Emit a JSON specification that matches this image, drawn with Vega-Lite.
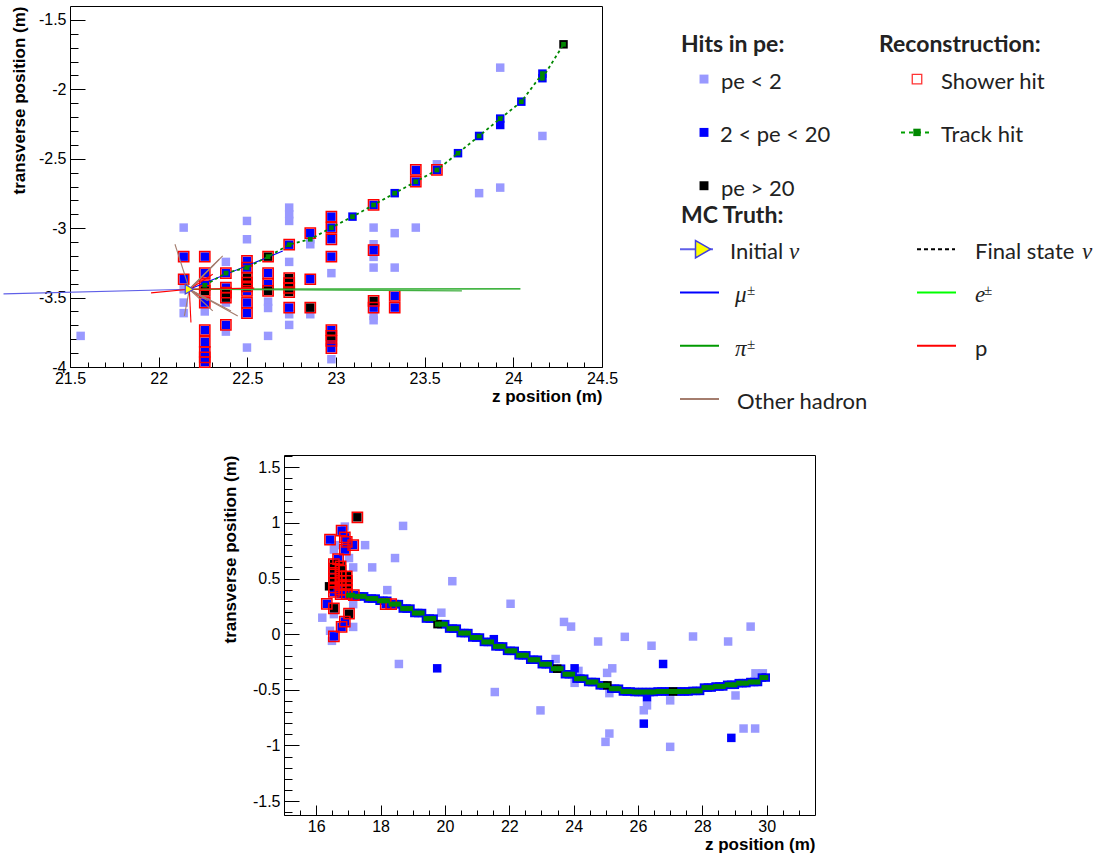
{
"$schema":"https://vega.github.io/schema/vega-lite/v6.json",
"background":"white",
"padding":{"left":0,"top":5,"right":0,"bottom":0},
"config":{"view":{"stroke":null},
 "axis":{"labelFont":"Liberation Sans","labelFontSize":16,"labelColor":"#000","titleFont":"Liberation Sans","titleFontSize":17,"titleFontWeight":"bold","titleColor":"#000","tickColor":"#000","domainColor":"#000","grid":false,"labelFlush":false,"labelOverlap":false,"domain":false}},
"datasets":{
"hits":[
{"p":"top","z":21.56,"t":-3.776,"pe":"low"},
{"p":"top","z":22.141,"t":-2.996,"pe":"low"},
{"p":"top","z":22.141,"t":-3.205,"pe":"mid","sh":1},
{"p":"top","z":22.141,"t":-3.368,"pe":"mid","sh":1},
{"p":"top","z":22.141,"t":-3.44,"pe":"low"},
{"p":"top","z":22.141,"t":-3.536,"pe":"low"},
{"p":"top","z":22.141,"t":-3.612,"pe":"low"},
{"p":"top","z":22.26,"t":-3.205,"pe":"mid","sh":1},
{"p":"top","z":22.26,"t":-3.324,"pe":"mid","sh":1},
{"p":"top","z":22.26,"t":-3.411,"pe":"mid","sh":1,"tr":1},
{"p":"top","z":22.26,"t":-3.452,"pe":"high","sh":1},
{"p":"top","z":22.26,"t":-3.536,"pe":"mid","sh":1},
{"p":"top","z":22.26,"t":-3.6,"pe":"low"},
{"p":"top","z":22.26,"t":-3.735,"pe":"mid","sh":1},
{"p":"top","z":22.26,"t":-3.819,"pe":"mid","sh":1},
{"p":"top","z":22.26,"t":-3.891,"pe":"mid","sh":1},
{"p":"top","z":22.26,"t":-3.93,"pe":"mid","sh":1},
{"p":"top","z":22.26,"t":-3.965,"pe":"mid","sh":1},
{"p":"top","z":22.379,"t":-3.243,"pe":"low"},
{"p":"top","z":22.379,"t":-3.324,"pe":"mid","sh":1,"tr":1},
{"p":"top","z":22.379,"t":-3.428,"pe":"mid","sh":1},
{"p":"top","z":22.379,"t":-3.465,"pe":"high","sh":1},
{"p":"top","z":22.379,"t":-3.5,"pe":"high","sh":1},
{"p":"top","z":22.379,"t":-3.536,"pe":"low"},
{"p":"top","z":22.379,"t":-3.697,"pe":"mid","sh":1},
{"p":"top","z":22.379,"t":-3.745,"pe":"low"},
{"p":"top","z":22.498,"t":-2.948,"pe":"low"},
{"p":"top","z":22.498,"t":-3.08,"pe":"low"},
{"p":"top","z":22.498,"t":-3.236,"pe":"mid","sh":1},
{"p":"top","z":22.498,"t":-3.284,"pe":"mid","sh":1,"tr":1},
{"p":"top","z":22.498,"t":-3.356,"pe":"high","sh":1},
{"p":"top","z":22.498,"t":-3.392,"pe":"high","sh":1},
{"p":"top","z":22.498,"t":-3.42,"pe":"high","sh":1},
{"p":"top","z":22.498,"t":-3.452,"pe":"mid","sh":1},
{"p":"top","z":22.498,"t":-3.536,"pe":"mid","sh":1},
{"p":"top","z":22.498,"t":-3.612,"pe":"mid","sh":1},
{"p":"top","z":22.498,"t":-3.86,"pe":"low"},
{"p":"top","z":22.617,"t":-3.205,"pe":"high","sh":1,"tr":1},
{"p":"top","z":22.617,"t":-3.324,"pe":"mid","sh":1},
{"p":"top","z":22.617,"t":-3.404,"pe":"mid","sh":1},
{"p":"top","z":22.617,"t":-3.452,"pe":"high","sh":1},
{"p":"top","z":22.617,"t":-3.53,"pe":"low"},
{"p":"top","z":22.617,"t":-3.575,"pe":"low"},
{"p":"top","z":22.617,"t":-3.776,"pe":"low"},
{"p":"top","z":22.736,"t":-2.852,"pe":"low"},
{"p":"top","z":22.736,"t":-2.9,"pe":"low"},
{"p":"top","z":22.736,"t":-2.948,"pe":"low"},
{"p":"top","z":22.736,"t":-3.119,"pe":"mid","sh":1,"tr":1},
{"p":"top","z":22.736,"t":-3.243,"pe":"low"},
{"p":"top","z":22.736,"t":-3.36,"pe":"high","sh":1},
{"p":"top","z":22.736,"t":-3.395,"pe":"mid","sh":1},
{"p":"top","z":22.736,"t":-3.43,"pe":"high","sh":1},
{"p":"top","z":22.736,"t":-3.46,"pe":"high","sh":1},
{"p":"top","z":22.736,"t":-3.572,"pe":"mid","sh":1},
{"p":"top","z":22.736,"t":-3.62,"pe":"low"},
{"p":"top","z":22.736,"t":-3.697,"pe":"low"},
{"p":"top","z":22.855,"t":-3.036,"pe":"mid","sh":1},
{"p":"top","z":22.855,"t":-3.08,"pe":"low","tr":1},
{"p":"top","z":22.855,"t":-3.116,"pe":"low"},
{"p":"top","z":22.855,"t":-3.368,"pe":"mid","sh":1},
{"p":"top","z":22.855,"t":-3.572,"pe":"high","sh":1},
{"p":"top","z":22.855,"t":-3.62,"pe":"low"},
{"p":"top","z":22.974,"t":-2.917,"pe":"mid","sh":1},
{"p":"top","z":22.974,"t":-2.996,"pe":"mid","sh":1,"tr":1},
{"p":"top","z":22.974,"t":-3.08,"pe":"mid","sh":1},
{"p":"top","z":22.974,"t":-3.205,"pe":"mid","sh":1},
{"p":"top","z":22.974,"t":-3.324,"pe":"low"},
{"p":"top","z":22.974,"t":-3.735,"pe":"mid","sh":1},
{"p":"top","z":22.974,"t":-3.776,"pe":"high","sh":1},
{"p":"top","z":22.974,"t":-3.812,"pe":"mid","sh":1},
{"p":"top","z":22.974,"t":-3.864,"pe":"mid","sh":1},
{"p":"top","z":22.974,"t":-3.944,"pe":"low"},
{"p":"top","z":23.093,"t":-2.917,"pe":"mid","tr":1},
{"p":"top","z":23.212,"t":-2.833,"pe":"mid","sh":1,"tr":1},
{"p":"top","z":23.212,"t":-2.996,"pe":"low"},
{"p":"top","z":23.212,"t":-3.116,"pe":"low"},
{"p":"top","z":23.212,"t":-3.159,"pe":"mid","sh":1},
{"p":"top","z":23.212,"t":-3.207,"pe":"low"},
{"p":"top","z":23.212,"t":-3.284,"pe":"low"},
{"p":"top","z":23.212,"t":-3.524,"pe":"high","sh":1},
{"p":"top","z":23.212,"t":-3.572,"pe":"mid","sh":1},
{"p":"top","z":23.212,"t":-3.632,"pe":"low"},
{"p":"top","z":23.212,"t":-3.663,"pe":"low"},
{"p":"top","z":23.331,"t":-2.748,"pe":"mid","tr":1},
{"p":"top","z":23.331,"t":-3.036,"pe":"low"},
{"p":"top","z":23.331,"t":-3.284,"pe":"low"},
{"p":"top","z":23.331,"t":-3.488,"pe":"mid","sh":1},
{"p":"top","z":23.331,"t":-3.572,"pe":"mid","sh":1},
{"p":"top","z":23.45,"t":-2.581,"pe":"mid","sh":1},
{"p":"top","z":23.45,"t":-2.665,"pe":"mid","sh":1,"tr":1},
{"p":"top","z":23.45,"t":-2.996,"pe":"low"},
{"p":"top","z":23.569,"t":-2.54,"pe":"low"},
{"p":"top","z":23.569,"t":-2.581,"pe":"mid","sh":1,"tr":1},
{"p":"top","z":23.688,"t":-2.46,"pe":"mid","tr":1},
{"p":"top","z":23.807,"t":-2.336,"pe":"mid","tr":1},
{"p":"top","z":23.807,"t":-2.748,"pe":"low"},
{"p":"top","z":23.926,"t":-1.844,"pe":"low"},
{"p":"top","z":23.926,"t":-2.211,"pe":"mid","tr":1},
{"p":"top","z":23.926,"t":-2.257,"pe":"mid"},
{"p":"top","z":23.926,"t":-2.708,"pe":"low"},
{"p":"top","z":24.045,"t":-2.089,"pe":"mid","tr":1},
{"p":"top","z":24.164,"t":-1.887,"pe":"mid","tr":1},
{"p":"top","z":24.164,"t":-1.92,"pe":"mid","tr":1},
{"p":"top","z":24.164,"t":-2.336,"pe":"low"},
{"p":"top","z":24.283,"t":-1.676,"pe":"high","tr":1},
{"p":"bot","z":16.89,"t":0.967,"pe":"low"},
{"p":"bot","z":16.55,"t":0.76,"pe":"low"},
{"p":"bot","z":16.6,"t":0.8,"pe":"low"},
{"p":"bot","z":17.02,"t":0.684,"pe":"low"},
{"p":"bot","z":17.15,"t":0.6,"pe":"low"},
{"p":"bot","z":17.52,"t":0.8,"pe":"low"},
{"p":"bot","z":17.74,"t":0.6,"pe":"low"},
{"p":"bot","z":18.45,"t":0.684,"pe":"low"},
{"p":"bot","z":18.7,"t":0.973,"pe":"low"},
{"p":"bot","z":20.23,"t":0.476,"pe":"low"},
{"p":"bot","z":18.21,"t":0.396,"pe":"low"},
{"p":"bot","z":22.04,"t":0.273,"pe":"low"},
{"p":"bot","z":19.89,"t":0.193,"pe":"low"},
{"p":"bot","z":16.19,"t":0.148,"pe":"low"},
{"p":"bot","z":16.43,"t":0.03,"pe":"low"},
{"p":"bot","z":16.49,"t":-0.06,"pe":"low"},
{"p":"bot","z":17.15,"t":0.065,"pe":"low"},
{"p":"bot","z":16.55,"t":0.18,"pe":"low"},
{"p":"bot","z":17.15,"t":0.27,"pe":"low"},
{"p":"bot","z":18.57,"t":-0.268,"pe":"low"},
{"p":"bot","z":23.44,"t":-0.223,"pe":"low"},
{"p":"bot","z":23.7,"t":0.11,"pe":"low"},
{"p":"bot","z":23.92,"t":0.068,"pe":"low"},
{"p":"bot","z":24.76,"t":-0.066,"pe":"low"},
{"p":"bot","z":25.59,"t":-0.024,"pe":"low"},
{"p":"bot","z":26.42,"t":-0.104,"pe":"low"},
{"p":"bot","z":27.71,"t":-0.021,"pe":"low"},
{"p":"bot","z":28.8,"t":-0.066,"pe":"low"},
{"p":"bot","z":29.5,"t":0.068,"pe":"low"},
{"p":"bot","z":21.55,"t":-0.52,"pe":"low"},
{"p":"bot","z":22.97,"t":-0.685,"pe":"low"},
{"p":"bot","z":24.15,"t":-0.33,"pe":"low"},
{"p":"bot","z":25.2,"t":-0.307,"pe":"low"},
{"p":"bot","z":25.04,"t":-0.348,"pe":"low"},
{"p":"bot","z":24.03,"t":-0.4375,"pe":"low"},
{"p":"bot","z":25.11,"t":-0.53,"pe":"low"},
{"p":"bot","z":26.28,"t":-0.64,"pe":"low"},
{"p":"bot","z":26.18,"t":-0.684,"pe":"low"},
{"p":"bot","z":27.0,"t":-0.595,"pe":"low"},
{"p":"bot","z":29.03,"t":-0.551,"pe":"low"},
{"p":"bot","z":29.65,"t":-0.352,"pe":"low"},
{"p":"bot","z":29.88,"t":-0.352,"pe":"low"},
{"p":"bot","z":25.11,"t":-0.893,"pe":"low"},
{"p":"bot","z":24.99,"t":-0.968,"pe":"low"},
{"p":"bot","z":27.0,"t":-1.0125,"pe":"low"},
{"p":"bot","z":29.28,"t":-0.848,"pe":"low"},
{"p":"bot","z":29.64,"t":-0.848,"pe":"low"},
{"p":"bot","z":16.4,"t":0.43,"pe":"high"},
{"p":"bot","z":19.76,"t":-0.307,"pe":"mid"},
{"p":"bot","z":24.03,"t":-0.307,"pe":"mid"},
{"p":"bot","z":26.78,"t":-0.268,"pe":"mid"},
{"p":"bot","z":26.28,"t":-0.566,"pe":"mid"},
{"p":"bot","z":26.18,"t":-0.804,"pe":"mid"},
{"p":"bot","z":28.9,"t":-0.932,"pe":"mid"},
{"p":"bot","z":21.52,"t":-0.045,"pe":"mid"},
{"p":"bot","z":17.28,"t":1.05,"pe":"high","sh":1},
{"p":"bot","z":16.43,"t":0.85,"pe":"mid","sh":1},
{"p":"bot","z":16.79,"t":0.93,"pe":"mid","sh":1},
{"p":"bot","z":16.89,"t":0.87,"pe":"mid","sh":1},
{"p":"bot","z":16.95,"t":0.83,"pe":"mid","sh":1},
{"p":"bot","z":16.89,"t":0.76,"pe":"mid","sh":1},
{"p":"bot","z":17.15,"t":0.8,"pe":"mid","sh":1},
{"p":"bot","z":16.68,"t":0.675,"pe":"mid","sh":1},
{"p":"bot","z":16.55,"t":0.63,"pe":"high","sh":1},
{"p":"bot","z":16.55,"t":0.59,"pe":"high","sh":1},
{"p":"bot","z":16.55,"t":0.55,"pe":"mid","sh":1},
{"p":"bot","z":16.55,"t":0.5,"pe":"high","sh":1},
{"p":"bot","z":16.55,"t":0.46,"pe":"high","sh":1},
{"p":"bot","z":16.55,"t":0.42,"pe":"mid","sh":1},
{"p":"bot","z":16.55,"t":0.38,"pe":"mid","sh":1},
{"p":"bot","z":16.76,"t":0.61,"pe":"high","sh":1},
{"p":"bot","z":16.76,"t":0.57,"pe":"high","sh":1},
{"p":"bot","z":16.76,"t":0.52,"pe":"high","sh":1},
{"p":"bot","z":16.76,"t":0.48,"pe":"high","sh":1},
{"p":"bot","z":16.76,"t":0.44,"pe":"mid","sh":1},
{"p":"bot","z":16.76,"t":0.4,"pe":"mid","sh":1},
{"p":"bot","z":16.76,"t":0.36,"pe":"mid","sh":1},
{"p":"bot","z":16.95,"t":0.52,"pe":"high","sh":1},
{"p":"bot","z":16.95,"t":0.48,"pe":"high","sh":1},
{"p":"bot","z":16.95,"t":0.44,"pe":"high","sh":1},
{"p":"bot","z":16.95,"t":0.4,"pe":"mid","sh":1},
{"p":"bot","z":16.95,"t":0.36,"pe":"mid","sh":1},
{"p":"bot","z":17.17,"t":0.35,"pe":"mid","sh":1},
{"p":"bot","z":16.33,"t":0.273,"pe":"mid","sh":1},
{"p":"bot","z":16.55,"t":0.232,"pe":"high","sh":1},
{"p":"bot","z":17.02,"t":0.184,"pe":"high","sh":1},
{"p":"bot","z":16.89,"t":0.113,"pe":"mid","sh":1},
{"p":"bot","z":16.79,"t":0.065,"pe":"mid","sh":1},
{"p":"bot","z":16.55,"t":-0.02,"pe":"mid","sh":1},
{"p":"bot","z":18.16,"t":0.27,"pe":"mid","sh":1},
{"p":"bot","z":18.33,"t":0.27,"pe":"mid","sh":1},
{"p":"bot","z":17.01,"t":0.35,"pe":"mid","tr":1},
{"p":"bot","z":17.13,"t":0.35,"pe":"mid","tr":1},
{"p":"bot","z":17.25,"t":0.34,"pe":"mid","tr":1},
{"p":"bot","z":17.37,"t":0.34,"pe":"mid","tr":1},
{"p":"bot","z":17.49,"t":0.34,"pe":"mid","tr":1},
{"p":"bot","z":17.61,"t":0.32,"pe":"mid","tr":1},
{"p":"bot","z":17.73,"t":0.32,"pe":"mid","tr":1},
{"p":"bot","z":17.85,"t":0.32,"pe":"mid","tr":1},
{"p":"bot","z":17.97,"t":0.3,"pe":"mid","tr":1},
{"p":"bot","z":18.09,"t":0.3,"pe":"mid","tr":1},
{"p":"bot","z":18.21,"t":0.3,"pe":"mid","tr":1},
{"p":"bot","z":18.33,"t":0.27,"pe":"mid","tr":1},
{"p":"bot","z":18.45,"t":0.27,"pe":"mid","tr":1},
{"p":"bot","z":18.57,"t":0.27,"pe":"mid","tr":1},
{"p":"bot","z":18.69,"t":0.23,"pe":"mid","tr":1},
{"p":"bot","z":18.81,"t":0.23,"pe":"mid","tr":1},
{"p":"bot","z":18.93,"t":0.23,"pe":"mid","tr":1},
{"p":"bot","z":19.05,"t":0.19,"pe":"mid","tr":1},
{"p":"bot","z":19.17,"t":0.19,"pe":"mid","tr":1},
{"p":"bot","z":19.29,"t":0.19,"pe":"mid","tr":1},
{"p":"bot","z":19.41,"t":0.14,"pe":"mid","tr":1},
{"p":"bot","z":19.53,"t":0.14,"pe":"mid","tr":1},
{"p":"bot","z":19.65,"t":0.14,"pe":"mid","tr":1},
{"p":"bot","z":19.77,"t":0.09,"pe":"high","tr":1},
{"p":"bot","z":19.89,"t":0.09,"pe":"mid","tr":1},
{"p":"bot","z":20.01,"t":0.09,"pe":"mid","tr":1},
{"p":"bot","z":20.13,"t":0.05,"pe":"mid","tr":1},
{"p":"bot","z":20.25,"t":0.05,"pe":"mid","tr":1},
{"p":"bot","z":20.37,"t":0.05,"pe":"mid","tr":1},
{"p":"bot","z":20.49,"t":0.01,"pe":"mid","tr":1},
{"p":"bot","z":20.61,"t":0.01,"pe":"mid","tr":1},
{"p":"bot","z":20.73,"t":0.01,"pe":"mid","tr":1},
{"p":"bot","z":20.85,"t":-0.03,"pe":"mid","tr":1},
{"p":"bot","z":20.97,"t":-0.03,"pe":"mid","tr":1},
{"p":"bot","z":21.09,"t":-0.03,"pe":"mid","tr":1},
{"p":"bot","z":21.21,"t":-0.07,"pe":"mid","tr":1},
{"p":"bot","z":21.33,"t":-0.07,"pe":"mid","tr":1},
{"p":"bot","z":21.45,"t":-0.07,"pe":"mid","tr":1},
{"p":"bot","z":21.57,"t":-0.11,"pe":"mid","tr":1},
{"p":"bot","z":21.69,"t":-0.11,"pe":"mid","tr":1},
{"p":"bot","z":21.81,"t":-0.11,"pe":"mid","tr":1},
{"p":"bot","z":21.93,"t":-0.15,"pe":"mid","tr":1},
{"p":"bot","z":22.05,"t":-0.15,"pe":"mid","tr":1},
{"p":"bot","z":22.17,"t":-0.15,"pe":"mid","tr":1},
{"p":"bot","z":22.29,"t":-0.19,"pe":"mid","tr":1},
{"p":"bot","z":22.41,"t":-0.19,"pe":"mid","tr":1},
{"p":"bot","z":22.53,"t":-0.19,"pe":"mid","tr":1},
{"p":"bot","z":22.65,"t":-0.23,"pe":"mid","tr":1},
{"p":"bot","z":22.77,"t":-0.23,"pe":"mid","tr":1},
{"p":"bot","z":22.89,"t":-0.23,"pe":"mid","tr":1},
{"p":"bot","z":23.01,"t":-0.27,"pe":"mid","tr":1},
{"p":"bot","z":23.13,"t":-0.27,"pe":"mid","tr":1},
{"p":"bot","z":23.25,"t":-0.27,"pe":"mid","tr":1},
{"p":"bot","z":23.37,"t":-0.31,"pe":"mid","tr":1},
{"p":"bot","z":23.49,"t":-0.31,"pe":"high","tr":1},
{"p":"bot","z":23.61,"t":-0.31,"pe":"mid","tr":1},
{"p":"bot","z":23.73,"t":-0.36,"pe":"mid","tr":1},
{"p":"bot","z":23.85,"t":-0.36,"pe":"mid","tr":1},
{"p":"bot","z":23.97,"t":-0.36,"pe":"mid","tr":1},
{"p":"bot","z":24.09,"t":-0.4,"pe":"mid","tr":1},
{"p":"bot","z":24.21,"t":-0.4,"pe":"mid","tr":1},
{"p":"bot","z":24.33,"t":-0.4,"pe":"mid","tr":1},
{"p":"bot","z":24.45,"t":-0.43,"pe":"mid","tr":1},
{"p":"bot","z":24.57,"t":-0.43,"pe":"mid","tr":1},
{"p":"bot","z":24.69,"t":-0.43,"pe":"mid","tr":1},
{"p":"bot","z":24.81,"t":-0.46,"pe":"mid","tr":1},
{"p":"bot","z":24.93,"t":-0.46,"pe":"mid","tr":1},
{"p":"bot","z":25.05,"t":-0.46,"pe":"high","tr":1},
{"p":"bot","z":25.17,"t":-0.49,"pe":"mid","tr":1},
{"p":"bot","z":25.29,"t":-0.49,"pe":"mid","tr":1},
{"p":"bot","z":25.41,"t":-0.49,"pe":"mid","tr":1},
{"p":"bot","z":25.53,"t":-0.515,"pe":"mid","tr":1},
{"p":"bot","z":25.65,"t":-0.515,"pe":"mid","tr":1},
{"p":"bot","z":25.77,"t":-0.515,"pe":"mid","tr":1},
{"p":"bot","z":25.89,"t":-0.52,"pe":"mid","tr":1},
{"p":"bot","z":26.01,"t":-0.52,"pe":"mid","tr":1},
{"p":"bot","z":26.13,"t":-0.52,"pe":"mid","tr":1},
{"p":"bot","z":26.25,"t":-0.52,"pe":"mid","tr":1},
{"p":"bot","z":26.37,"t":-0.52,"pe":"mid","tr":1},
{"p":"bot","z":26.49,"t":-0.52,"pe":"mid","tr":1},
{"p":"bot","z":26.61,"t":-0.515,"pe":"mid","tr":1},
{"p":"bot","z":26.73,"t":-0.515,"pe":"mid","tr":1},
{"p":"bot","z":26.85,"t":-0.515,"pe":"mid","tr":1},
{"p":"bot","z":26.97,"t":-0.515,"pe":"mid","tr":1},
{"p":"bot","z":27.09,"t":-0.515,"pe":"high","tr":1},
{"p":"bot","z":27.21,"t":-0.515,"pe":"mid","tr":1},
{"p":"bot","z":27.33,"t":-0.515,"pe":"mid","tr":1},
{"p":"bot","z":27.45,"t":-0.515,"pe":"mid","tr":1},
{"p":"bot","z":27.57,"t":-0.515,"pe":"mid","tr":1},
{"p":"bot","z":27.69,"t":-0.51,"pe":"mid","tr":1},
{"p":"bot","z":27.81,"t":-0.51,"pe":"mid","tr":1},
{"p":"bot","z":27.93,"t":-0.51,"pe":"mid","tr":1},
{"p":"bot","z":28.05,"t":-0.48,"pe":"mid","tr":1},
{"p":"bot","z":28.17,"t":-0.48,"pe":"mid","tr":1},
{"p":"bot","z":28.29,"t":-0.48,"pe":"mid","tr":1},
{"p":"bot","z":28.41,"t":-0.47,"pe":"mid","tr":1},
{"p":"bot","z":28.53,"t":-0.47,"pe":"mid","tr":1},
{"p":"bot","z":28.65,"t":-0.47,"pe":"mid","tr":1},
{"p":"bot","z":28.77,"t":-0.455,"pe":"mid","tr":1},
{"p":"bot","z":28.89,"t":-0.455,"pe":"mid","tr":1},
{"p":"bot","z":29.01,"t":-0.455,"pe":"mid","tr":1},
{"p":"bot","z":29.13,"t":-0.44,"pe":"mid","tr":1},
{"p":"bot","z":29.25,"t":-0.44,"pe":"mid","tr":1},
{"p":"bot","z":29.37,"t":-0.44,"pe":"mid","tr":1},
{"p":"bot","z":29.49,"t":-0.43,"pe":"mid","tr":1},
{"p":"bot","z":29.61,"t":-0.43,"pe":"mid","tr":1},
{"p":"bot","z":29.73,"t":-0.43,"pe":"mid","tr":1},
{"p":"bot","z":29.85,"t":-0.39,"pe":"mid","tr":1},
{"p":"bot","z":29.97,"t":-0.39,"pe":"mid","tr":1}
],
"mc":[
{"seg":"nu","part":"nu","o":0,"z":21.125,"t":-3.473},{"seg":"nu","part":"nu","o":1,"z":22.173,"t":-3.44},
{"seg":"mu","part":"mu","o":0,"z":22.173,"t":-3.44},{"seg":"mu","part":"mu","o":1,"z":22.7,"t":-3.165},
{"seg":"pi1","part":"pi","o":0,"z":22.173,"t":-3.44},{"seg":"pi1","part":"pi","o":1,"z":24.04,"t":-3.437},
{"seg":"pi2","part":"pi2","o":0,"z":22.173,"t":-3.44},{"seg":"pi2","part":"pi2","o":1,"z":23.71,"t":-3.452},
{"seg":"p1","part":"p","o":0,"z":22.173,"t":-3.44},{"seg":"p1","part":"p","o":1,"z":22.539,"t":-3.432},
{"seg":"p2","part":"p","o":0,"z":22.173,"t":-3.44},{"seg":"p2","part":"p","o":1,"z":22.182,"t":-3.68},
{"seg":"p3","part":"p","o":0,"z":22.173,"t":-3.44},{"seg":"p3","part":"p","o":1,"z":21.957,"t":-3.466},
{"seg":"p4","part":"p","o":0,"z":22.173,"t":-3.44},{"seg":"p4","part":"p","o":1,"z":22.305,"t":-3.332},
{"seg":"p5","part":"p","o":0,"z":22.173,"t":-3.44},{"seg":"p5","part":"p","o":1,"z":22.257,"t":-3.344},
{"seg":"p6","part":"p","o":0,"z":22.173,"t":-3.44},{"seg":"p6","part":"p","o":1,"z":22.239,"t":-3.5},
{"seg":"h1","part":"oh","o":0,"z":22.173,"t":-3.44},{"seg":"h1","part":"oh","o":1,"z":22.092,"t":-3.116},
{"seg":"h2","part":"oh","o":0,"z":22.173,"t":-3.44},{"seg":"h2","part":"oh","o":1,"z":22.145,"t":-3.632},
{"seg":"h3","part":"oh","o":0,"z":22.173,"t":-3.44},{"seg":"h3","part":"oh","o":1,"z":22.361,"t":-3.2},
{"seg":"h4","part":"oh","o":0,"z":22.173,"t":-3.44},{"seg":"h4","part":"oh","o":1,"z":22.342,"t":-3.224},
{"seg":"h5","part":"oh","o":0,"z":22.173,"t":-3.44},{"seg":"h5","part":"oh","o":1,"z":22.314,"t":-3.26},
{"seg":"h6","part":"oh","o":0,"z":22.173,"t":-3.44},{"seg":"h6","part":"oh","o":1,"z":22.446,"t":-3.632},
{"seg":"h7","part":"oh","o":0,"z":22.173,"t":-3.44},{"seg":"h7","part":"oh","o":1,"z":22.408,"t":-3.596},
{"seg":"h8","part":"oh","o":0,"z":22.173,"t":-3.44},{"seg":"h8","part":"oh","o":1,"z":22.305,"t":-3.596},
{"seg":"h9","part":"oh","o":0,"z":22.173,"t":-3.44},{"seg":"h9","part":"oh","o":1,"z":22.277,"t":-3.524}
],
"vtx":[{"z":22.173,"t":-3.44}],
"leg":[
{"k":"head","x":49,"r":-0.7,"s":"Hits in pe:"},
{"k":"head","x":247,"r":-0.7,"s":"Reconstruction:"},
{"k":"head","x":49,"r":2.51,"s":"MC Truth:"},
{"k":"txt","x":89,"r":0,"s":"pe < 2"},
{"k":"txt","x":88,"r":1,"s":"2 < pe < 20"},
{"k":"txt","x":89,"r":2,"s":"pe > 20"},
{"k":"txt","x":309,"r":0,"s":"Shower hit"},
{"k":"txt","x":309,"r":1,"s":"Track hit"},
{"k":"txt","x":98,"r":3.19,"s":"Initial"},
{"k":"txt","x":343,"r":3.19,"s":"Final state"},
{"k":"txt","x":343,"r":5,"s":"p"},
{"k":"txt","x":105,"r":6,"s":"Other hadron"},
{"k":"math","x":157,"r":3.19,"s":"ν"},
{"k":"math","x":450,"r":3.19,"s":"ν"},
{"k":"math","x":103,"r":4,"s":"μ"},
{"k":"math","x":343,"r":4,"s":"e"},
{"k":"math","x":103,"r":5,"s":"π"},
{"k":"sup","x":115,"r":4,"s":"±"},
{"k":"sup","x":352,"r":4,"s":"±"},
{"k":"sup","x":115,"r":5,"s":"±"},
{"k":"sq","x":72,"r":0,"c":"low"},
{"k":"sq","x":72,"r":1,"c":"mid"},
{"k":"sq","x":72,"r":2,"c":"high"},
{"k":"shw","x":285,"r":0},
{"k":"tmk","x":285,"r":1},
{"k":"tri","x":71,"r":3.19},
{"k":"line","c":"nu","x":48,"x2":81,"r":3.19},
{"k":"line","c":"mu","x":48,"x2":87,"r":4},
{"k":"line","c":"pi","x":48,"x2":87,"r":5},
{"k":"line","c":"oh","x":48,"x2":87,"r":6},
{"k":"line","c":"e","x":285,"x2":324,"r":4},
{"k":"line","c":"p","x":285,"x2":324,"r":5},
{"k":"dash","c":"fnu","x":285,"x2":323,"r":3.19},
{"k":"dash","c":"trk","x":269,"x2":298,"r":1}
]
},
"spacing":40,
"vconcat":[
{"spacing":13,"hconcat":[
{"width":532,"height":361,
 "view":{"stroke":"#000","strokeWidth":1},
 "resolve":{"axis":{"x":"independent","y":"independent"}},
 "layer":[
  {"data":{"name":"hits"},"transform":[{"filter":"datum.p=='top' && datum.pe=='low'"}],
   "mark":{"type":"square","size":72,"color":"#9999ff","opacity":1},
   "encoding":{
    "x":{"field":"z","type":"quantitative","scale":{"domain":[21.5,24.5],"nice":false,"zero":false},
     "axis":{"orient":"bottom","values":[21.5,22,22.5,23,23.5,24,24.5],"labelExpr":"replace(format(datum.value,'~g'),'−','-')","tickSize":-10,"labelPadding":13,"title":"z position (m)","titleAnchor":"end","titlePadding":2}},
    "y":{"field":"t","type":"quantitative","scale":{"domain":[-4,-1.4],"nice":false,"zero":false},
     "axis":{"orient":"left","values":[-4,-3.5,-3,-2.5,-2,-1.5],"labelExpr":"replace(format(datum.value,'~g'),'−','-')","tickSize":-15,"labelPadding":19,"title":"transverse position (m)","titleAnchor":"end","titlePadding":10}}}},
  {"data":{"name":"hits"},"transform":[{"filter":"datum.p=='top' && datum.pe=='low'"}],
   "mark":{"type":"point","opacity":0},
   "encoding":{
    "x":{"field":"z","type":"quantitative","axis":{"orient":"bottom","values":[21.6,21.7,21.8,21.9,22.1,22.2,22.3,22.4,22.6,22.7,22.8,22.9,23.1,23.2,23.3,23.4,23.6,23.7,23.8,23.9,24.1,24.2,24.3,24.4],"tickSize":-5,"labels":false,"title":null}},
    "y":{"field":"t","type":"quantitative","axis":{"orient":"left","values":[-3.9,-3.8,-3.7,-3.6,-3.4,-3.3,-3.2,-3.1,-2.9,-2.8,-2.7,-2.6,-2.4,-2.3,-2.2,-2.1,-1.9,-1.8,-1.7,-1.6],"tickSize":-8,"labels":false,"title":null}}}},
  {"data":{"name":"hits"},"transform":[{"filter":"datum.p=='top' && datum.pe=='mid'"}],
   "mark":{"type":"square","size":72,"color":"#0000ff","opacity":1},
   "encoding":{"x":{"field":"z","type":"quantitative","axis":null},"y":{"field":"t","type":"quantitative","axis":null}}},
  {"data":{"name":"hits"},"transform":[{"filter":"datum.p=='top' && datum.pe=='high'"}],
   "mark":{"type":"square","size":72,"color":"#000000","opacity":1},
   "encoding":{"x":{"field":"z","type":"quantitative","axis":null},"y":{"field":"t","type":"quantitative","axis":null}}},
  {"data":{"name":"hits"},"transform":[{"filter":"datum.p=='top' && datum.sh==1"}],
   "mark":{"type":"point","shape":"square","filled":false,"size":105,"stroke":"#ff0000","strokeWidth":1.5,"opacity":1},
   "encoding":{"x":{"field":"z","type":"quantitative","axis":null},"y":{"field":"t","type":"quantitative","axis":null}}},
  {"data":{"name":"mc"},
   "mark":{"type":"line","strokeWidth":1.1},
   "encoding":{"x":{"field":"z","type":"quantitative","axis":null},"y":{"field":"t","type":"quantitative","axis":null},"detail":{"field":"seg"},"order":{"field":"o"},
    "color":{"field":"part","type":"nominal","legend":null,"scale":{"domain":["nu","mu","pi","pi2","p","oh"],"range":["#5f5fe8","#0000ff","#009a00","#40b040","#ff0000","#a47d6e"]}}}},
  {"data":{"name":"vtx"},
   "mark":{"type":"point","shape":"triangle-right","filled":true,"fill":"#ffff00","stroke":"#4040e0","strokeWidth":1.2,"size":90,"opacity":1},
   "encoding":{"x":{"field":"z","type":"quantitative","axis":null},"y":{"field":"t","type":"quantitative","axis":null}}},
  {"data":{"name":"hits"},"transform":[{"filter":"datum.p=='top' && datum.tr==1"}],
   "mark":{"type":"line","color":"#008800","strokeWidth":1.8,"strokeDash":[3,3]},
   "encoding":{"x":{"field":"z","type":"quantitative","axis":null},"y":{"field":"t","type":"quantitative","axis":null}}},
  {"data":{"name":"hits"},"transform":[{"filter":"datum.p=='top' && datum.tr==1"}],
   "mark":{"type":"square","size":22,"color":"#008800","opacity":1},
   "encoding":{"x":{"field":"z","type":"quantitative","axis":null},"y":{"field":"t","type":"quantitative","axis":null}}}
 ]},
{"width":466,"height":400,
 "data":{"name":"leg"},
 "resolve":{"scale":{"color":"independent"}},
 "encoding":{
  "x":{"field":"x","type":"quantitative","scale":{"domain":[0,466],"nice":false,"zero":false},"axis":null},
  "y":{"field":"r","type":"quantitative","scale":{"domain":[-1.37,6.13],"nice":false,"zero":false,"reverse":true},"axis":null}},
 "layer":[
  {"transform":[{"filter":"datum.k=='line'"}],
   "mark":{"type":"rule","strokeWidth":2},
   "encoding":{"x2":{"field":"x2"},"color":{"field":"c","type":"nominal","legend":null,"scale":{"domain":["nu","mu","pi","oh","e","p"],"range":["#5f5fe8","#0000ff","#009a00","#a47d6e","#00ff00","#ff0000"]}}}},
  {"transform":[{"filter":"datum.k=='dash' && datum.c=='fnu'"}],
   "mark":{"type":"rule","strokeWidth":2,"color":"#000000","strokeDash":[4,3]},
   "encoding":{"x2":{"field":"x2"}}},
  {"transform":[{"filter":"datum.k=='dash' && datum.c=='trk'"}],
   "mark":{"type":"rule","strokeWidth":2,"color":"#00a000","strokeDash":[4,4]},
   "encoding":{"x2":{"field":"x2"}}},
  {"transform":[{"filter":"datum.k=='sq'"}],
   "mark":{"type":"square","size":80,"opacity":1},
   "encoding":{"color":{"field":"c","type":"nominal","legend":null,"scale":{"domain":["low","mid","high"],"range":["#9999ff","#0000ff","#000000"]}}}},
  {"transform":[{"filter":"datum.k=='shw'"}],
   "mark":{"type":"point","shape":"square","filled":false,"size":90,"stroke":"#ff3333","strokeWidth":1.3,"opacity":1}},
  {"transform":[{"filter":"datum.k=='tmk'"}],
   "mark":{"type":"square","size":55,"color":"#008800","opacity":1}},
  {"transform":[{"filter":"datum.k=='tri'"}],
   "mark":{"type":"point","shape":"triangle-right","filled":true,"fill":"#ffff00","stroke":"#4040e0","strokeWidth":1.5,"size":300,"opacity":1}},
  {"transform":[{"filter":"datum.k=='head'"}],
   "mark":{"type":"text","align":"left","baseline":"alphabetic","dy":10,"font":"Lato","fontSize":23,"fontWeight":"bold","color":"#222222"},
   "encoding":{"text":{"field":"s"}}},
  {"transform":[{"filter":"datum.k=='txt'"}],
   "mark":{"type":"text","align":"left","baseline":"alphabetic","dy":10,"font":"Lato","fontSize":22,"color":"#222222"},
   "encoding":{"text":{"field":"s"}}},
  {"transform":[{"filter":"datum.k=='math'"}],
   "mark":{"type":"text","align":"left","baseline":"alphabetic","dy":10,"font":"Liberation Serif","fontStyle":"italic","fontSize":23,"color":"#222222"},
   "encoding":{"text":{"field":"s"}}},
  {"transform":[{"filter":"datum.k=='sup'"}],
   "mark":{"type":"text","align":"left","baseline":"alphabetic","dy":3,"font":"Liberation Serif","fontSize":15,"color":"#222222"},
   "encoding":{"text":{"field":"s"}}}
 ]}
]},
{"spacing":0,"hconcat":[
{"width":150,"height":1,"data":{"values":[]},"mark":{"type":"point","opacity":0},"encoding":{}},
{"width":531,"height":360,
 "view":{"stroke":"#000","strokeWidth":1},
 "resolve":{"axis":{"x":"independent","y":"independent"}},
 "layer":[
  {"data":{"name":"hits"},"transform":[{"filter":"datum.p=='bot' && datum.pe=='low'"}],
   "mark":{"type":"square","size":72,"color":"#9999ff","opacity":1},
   "encoding":{
    "x":{"field":"z","type":"quantitative","scale":{"domain":[15,31.5],"nice":false,"zero":false},
     "axis":{"orient":"bottom","values":[16,18,20,22,24,26,28,30],"labelExpr":"replace(format(datum.value,'~g'),'−','-')","tickSize":-10,"labelPadding":13,"title":"z position (m)","titleAnchor":"end","titlePadding":2}},
    "y":{"field":"t","type":"quantitative","scale":{"domain":[-1.625,1.61],"nice":false,"zero":false},
     "axis":{"orient":"left","values":[-1.5,-1,-0.5,0,0.5,1,1.5],"labelExpr":"replace(format(datum.value,'~g'),'−','-')","tickSize":-15,"labelPadding":19,"title":"transverse position (m)","titleAnchor":"end","titlePadding":13}}}},
  {"data":{"name":"hits"},"transform":[{"filter":"datum.p=='bot' && datum.pe=='low'"}],
   "mark":{"type":"point","opacity":0},
   "encoding":{
    "x":{"field":"z","type":"quantitative","axis":{"orient":"bottom","values":[15,15.5,16.5,17,17.5,18.5,19,19.5,20.5,21,21.5,22.5,23,23.5,24.5,25,25.5,26.5,27,27.5,28.5,29,29.5,30.5,31],"tickSize":-5,"labels":false,"title":null}},
    "y":{"field":"t","type":"quantitative","axis":{"orient":"left","values":[-1.6,-1.4,-1.3,-1.2,-1.1,-0.9,-0.8,-0.7,-0.6,-0.4,-0.3,-0.2,-0.1,0.1,0.2,0.3,0.4,0.6,0.7,0.8,0.9,1.1,1.2,1.3,1.4,1.6],"tickSize":-8,"labels":false,"title":null}}}},
  {"data":{"name":"hits"},"transform":[{"filter":"datum.p=='bot' && datum.pe=='mid'"}],
   "mark":{"type":"square","size":72,"color":"#0000ff","opacity":1},
   "encoding":{"x":{"field":"z","type":"quantitative","axis":null},"y":{"field":"t","type":"quantitative","axis":null}}},
  {"data":{"name":"hits"},"transform":[{"filter":"datum.p=='bot' && datum.pe=='high'"}],
   "mark":{"type":"square","size":72,"color":"#000000","opacity":1},
   "encoding":{"x":{"field":"z","type":"quantitative","axis":null},"y":{"field":"t","type":"quantitative","axis":null}}},
  {"data":{"name":"hits"},"transform":[{"filter":"datum.p=='bot' && datum.sh==1"}],
   "mark":{"type":"point","shape":"square","filled":false,"size":105,"stroke":"#ff0000","strokeWidth":1.5,"opacity":1},
   "encoding":{"x":{"field":"z","type":"quantitative","axis":null},"y":{"field":"t","type":"quantitative","axis":null}}},
  {"data":{"name":"hits"},"transform":[{"filter":"datum.p=='bot' && datum.tr==1"}],
   "mark":{"type":"square","size":25,"color":"#008800","opacity":1},
   "encoding":{"x":{"field":"z","type":"quantitative","axis":null},"y":{"field":"t","type":"quantitative","axis":null}}}
 ]}
]}
]
}
